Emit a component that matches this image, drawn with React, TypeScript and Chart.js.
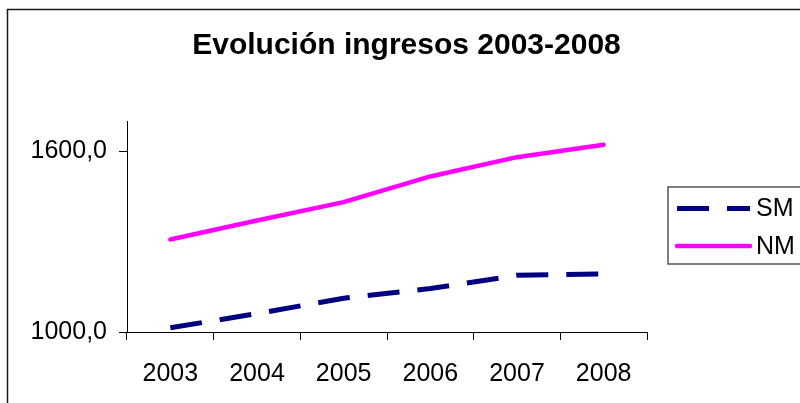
import React, { useEffect, useRef } from "react";
import { Chart, registerables } from "chart.js";

Chart.register(...registerables);

const years = ["2003", "2004", "2005", "2006", "2007", "2008"];
const smValues = [1014, 1061, 1112, 1144, 1188, 1193];
const nmValues = [1307, 1370, 1431, 1516, 1580, 1621];
const yTickValues = [1000, 1600];
const yMin = 1000;
const yMax = 1700;
const titleText = "Evolución ingresos 2003-2008";

const FONT = "'Liberation Sans', Arial, Helvetica, sans-serif";

const framePlugin = {
  id: "frame",
  beforeDraw(chart: any) {
    const ctx = chart.ctx;
    ctx.save();
    ctx.strokeStyle = "#1a1a1a";
    ctx.lineWidth = 1.5;
    ctx.strokeRect(7.5, 9.5, 820, 420);
    ctx.restore();
  },
};

const boxLegendPlugin = {
  id: "boxLegend",
  afterDraw(chart: any) {
    const ctx = chart.ctx;
    ctx.save();
    ctx.strokeStyle = "#555555";
    ctx.lineWidth = 1.5;
    ctx.strokeRect(668, 187, 160, 77);
    const rows = [208.5, 246];
    chart.data.datasets.forEach((ds: any, i: number) => {
      const y = rows[i];
      ctx.beginPath();
      ctx.strokeStyle = ds.borderColor;
      ctx.lineWidth = ds.borderWidth;
      ctx.setLineDash(ds.borderDash || []);
      ctx.lineCap = ds.borderCapStyle || "butt";
      ctx.moveTo(677, y);
      ctx.lineTo(750, y);
      ctx.stroke();
      ctx.setLineDash([]);
      ctx.fillStyle = "#000000";
      ctx.font = `25px ${FONT}`;
      ctx.textBaseline = "middle";
      ctx.textAlign = "left";
      ctx.fillText(ds.label, 756, y + 1);
    });
    ctx.restore();
  },
};

export default function App() {
  const canvasRef = useRef<HTMLCanvasElement | null>(null);

  useEffect(() => {
    if (!canvasRef.current) return;
    const chart = new Chart(canvasRef.current, {
      type: "line",
      data: {
        labels: years,
        datasets: [
          {
            label: "SM",
            data: smValues,
            borderColor: "#000080",
            backgroundColor: "#000080",
            borderWidth: 5,
            borderDash: [32, 18],
            borderCapStyle: "butt",
            pointRadius: 0,
            tension: 0,
            yAxisID: "y",
          },
          {
            label: "NM",
            data: nmValues,
            borderColor: "#FF00FF",
            backgroundColor: "#FF00FF",
            borderWidth: 4.5,
            borderCapStyle: "round",
            borderJoinStyle: "round",
            pointRadius: 0,
            tension: 0,
            yAxisID: "y",
          },
        ],
      },
      options: {
        responsive: false,
        animation: false,
        layout: { padding: { left: 13, right: 0, top: 0, bottom: 0 } },
        plugins: {
          legend: { display: false },
          tooltip: { enabled: false },
          title: {
            display: true,
            text: titleText,
            color: "#000000",
            font: { family: FONT, size: 30, weight: "bold" },
            padding: { top: 28, bottom: 57 },
          },
        },
        scales: {
          x: {
            type: "category",
            offset: true,
            grid: {
              offset: true,
              drawOnChartArea: false,
              drawTicks: true,
              tickLength: 8,
              color: "#000000",
            },
            border: { display: true, color: "#000000", width: 1 },
            ticks: {
              color: "#000000",
              font: { family: FONT, size: 25 },
              padding: 19,
              maxRotation: 0,
              autoSkip: false,
            },
            afterFit(scale: any) {
              scale.height = 71;
            },
          },
          y: {
            type: "linear",
            position: "left",
            min: yMin,
            max: yMax,
            grid: {
              drawOnChartArea: false,
              drawTicks: true,
              tickLength: 8,
              color: "#000000",
            },
            border: { display: true, color: "#000000", width: 1 },
            ticks: {
              color: "#000000",
              font: { family: FONT, size: 25 },
              padding: 12,
              callback: (v: any) => Number(v).toFixed(1).replace(".", ","),
            },
            afterBuildTicks(scale: any) {
              scale.ticks = yTickValues.map((v) => ({ value: v }));
            },
            afterFit(scale: any) {
              scale.width = 114;
            },
          },
          spacer: {
            type: "linear",
            position: "right",
            display: true,
            grid: { display: false, drawTicks: false },
            border: { display: false },
            ticks: { display: false },
            afterFit(scale: any) {
              scale.width = 153;
            },
          },
        },
      },
      plugins: [framePlugin, boxLegendPlugin],
    } as any);
    return () => chart.destroy();
  }, []);

  return (
    <div style={{ position: "absolute", left: 0, top: 0, width: 800, height: 403, background: "#ffffff" }}>
      <canvas ref={canvasRef} width={800} height={403} style={{ display: "block" }} />
    </div>
  );
}
